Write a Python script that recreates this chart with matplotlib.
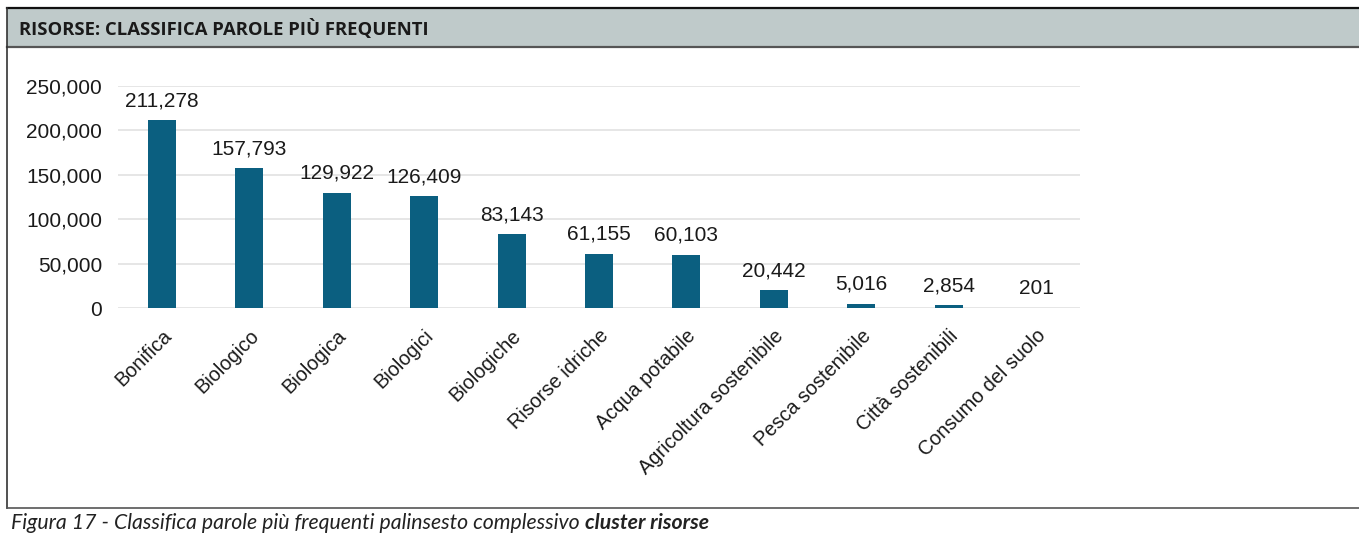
import matplotlib.pyplot as plt
from matplotlib.lines import Line2D
from matplotlib.patches import Rectangle
from matplotlib.ticker import FuncFormatter

parole = ["Bonifica", "Biologico", "Biologica", "Biologici", "Biologiche",
          "Risorse idriche", "Acqua potabile", "Agricoltura sostenibile",
          "Pesca sostenibile", "Città sostenibili", "Consumo del suolo"]
occorrenze = [211278, 157793, 129922, 126409, 83143, 61155, 60103,
              20442, 5016, 2854, 201]
y_ticks = [0, 50000, 100000, 150000, 200000, 250000]

W, H = 1359, 537
fig = plt.figure(figsize=(W / 100, H / 100), dpi=100)
fig.patch.set_facecolor("white")

def px(x, y):
    # pixel coords (top-left origin) -> figure fraction
    return x / W, 1 - y / H

# header band and frame
x0, y0 = px(7, 47)
fig.patches.append(Rectangle((x0, y0), 1 - x0, 38 / H, transform=fig.transFigure,
                             facecolor="#bfcaca", edgecolor="none", zorder=0))
for (xa, ya), (xb, yb), c, lw in [
        (px(7, 8), px(W, 8), "#111111", 1.6),
        (px(7, 47), px(W, 47), "#555555", 1.6),
        (px(7, 8), px(7, 508), "#333333", 1.2),
        (px(7, 508), px(W, 508), "#555555", 1.2)]:
    fig.add_artist(Line2D([xa, xb], [ya, yb], transform=fig.transFigure,
                          color=c, lw=lw))

tx, ty = px(19, 29)
fig.text(tx, ty, "RISORSE: CLASSIFICA PAROLE PIÙ FREQUENTI", family="Open Sans",
         fontweight="bold", fontsize=13.3, color="#1a1a1a", va="center", ha="left")
cx, cy = px(11, 523)
cap = fig.text(cx, cy, "Figura 17 - Classifica parole più frequenti palinsesto complessivo ",
               family="Lato", style="italic", fontsize=15.3, color="#222222",
               va="center", ha="left")
fig.canvas.draw()
bb = cap.get_window_extent()
fig.text(bb.x1 / W, cy, "cluster risorse", family="Lato", style="italic",
         fontweight="bold", fontsize=15.3, color="#222222", va="center", ha="left")

# chart area: x 118..1080, y 0 at 308, 250k at 86
axl, axb = px(118, 308)
axr, axt = px(1080, 86)
ax = fig.add_axes([axl, axb, axr - axl, axt - axb])
xs = range(len(parole))
ax.bar(xs, occorrenze, width=0.32, color="#0b5f80", zorder=3)
for x, v in zip(xs, occorrenze):
    ax.annotate(f"{v:,}", (x, v), xytext=(0, 7), textcoords="offset points",
                ha="center", va="bottom", family="Liberation Sans",
                fontsize=15, color="#1a1a1a")

ax.set_xlim(-0.5, len(parole) - 0.5)
ax.set_ylim(0, 250000)
ax.set_yticks(y_ticks)
ax.yaxis.set_major_formatter(FuncFormatter(lambda v, p: f"{int(v):,}"))
ax.grid(axis="y", color="#e2e2e2", lw=1.2, zorder=0)
ax.set_xticks(list(xs))
ax.set_xticklabels(parole, rotation=45, ha="right", rotation_mode="anchor",
                   family="Liberation Sans", fontsize=14.3, color="#1a1a1a")
for lab in ax.get_yticklabels():
    lab.set_family("Liberation Sans")
    lab.set_fontsize(15)
    lab.set_color("#1a1a1a")
ax.tick_params(axis="both", length=0)
ax.tick_params(axis="y", pad=11.5)
ax.tick_params(axis="x", pad=13)
for s in ax.spines.values():
    s.set_visible(False)
ax.set_facecolor("none")

fig.savefig("out.png", dpi=100)
